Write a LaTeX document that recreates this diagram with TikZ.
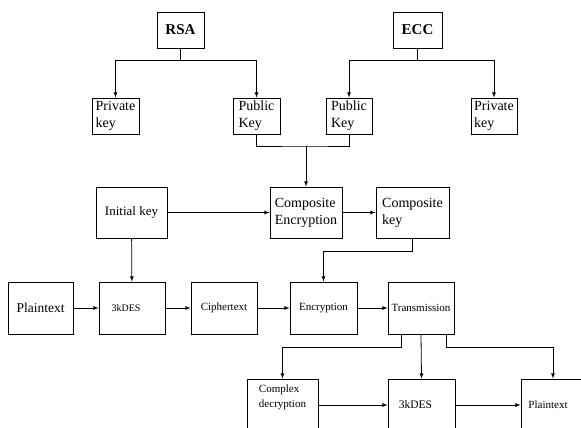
\documentclass[tikz,border=0pt]{standalone}
\usepackage{fontspec}
\setmainfont{Liberation Serif}
\usetikzlibrary{arrows}

\tikzset{
  box/.style={draw, line width=0.9pt, inner sep=1pt, align=left},
  arr/.style={-latex, line width=0.8pt},
  big/.style={font=\fontsize{14}{17}\selectfont},
  small/.style={font=\fontsize{11}{15}\selectfont}
}

\begin{document}
\begin{tikzpicture}[x=1pt, y=-1pt]
      \useasboundingbox (0,0) rectangle (581,428);
      \clip (0,0) rectangle (581,428);

      % key generation
      \node[box, minimum width=47pt, minimum height=36pt, font=\fontsize{15}{17}\selectfont\bfseries] (rsa) at (180.5, 30) {RSA};
      \node[box, minimum width=49pt, minimum height=36pt, font=\fontsize{15}{17}\selectfont\bfseries] (ecc) at (417.5, 30) {ECC};
      \node[box, big, minimum width=47pt, minimum height=36pt] (privr) at (115.5, 116) {Private\\key};
      \node[box, big, minimum width=47pt, minimum height=36pt] (pubr) at (256.5, 116) {Public\\Key};
      \node[box, big, minimum width=46pt, minimum height=36pt] (pube) at (349, 116) {Public\\Key};
      \node[box, big, minimum width=46pt, minimum height=36pt] (prive) at (494, 116) {Private\\key};
      \coordinate (join) at (306, 146);

      \draw[arr] (rsa.south) -- ++(0,12) -| (privr.north);
      \draw[arr] (rsa.south) -- ++(0,12) -| (pubr.north);
      \draw[arr] (ecc.south) -- ++(0,12) -| (pube.north);
      \draw[arr] (ecc.south) -- ++(0,12) -| (prive.north);

      % composite key
      \node[box, font=\fontsize{13}{16}\selectfont, minimum width=71pt, minimum height=51pt] (init) at (131.5, 212.5) {Initial key};
      \node[box, big, minimum width=72pt, minimum height=51pt] (compenc) at (306, 212.5) {Composite\\Encryption};
      \node[box, big, minimum width=73pt, minimum height=51pt] (ckey) at (412.5, 212.5) {Composite\\key};

      \draw[line width=0.8pt] (pubr.south) |- (join) -| (pube.south);
      \draw[arr] (join) -- (compenc.north);
      \draw[arr] (init) -- (compenc);
      \draw[arr] (compenc) -- (ckey);

      % encryption chain
      \node[box, font=\fontsize{13.5}{16}\selectfont, minimum width=65pt, minimum height=52pt] (plain) at (40.5, 308) {Plaintext};
      \node[box, font=\fontsize{10}{12}\selectfont, minimum width=66pt, minimum height=52pt] (des) at (132, 308) {3kDES\hspace{12pt}};
      \node[box, small, minimum width=66pt, minimum height=52pt] (cipher) at (224, 308) {Ciphertext};
      \node[box, small, minimum width=67pt, minimum height=52pt] (enc) at (323.5, 308) {Encryption};
      \node[box, small, minimum width=66pt, minimum height=52pt] (trans) at (421, 308) {Transmission};

      \draw[arr] (init) -- (des);
      \draw[arr] (ckey.south) -- ++(0,13) -| (enc.north);
      \draw[arr] (plain) -- (des);
      \draw[arr] (des) -- (cipher);
      \draw[arr] (cipher) -- (enc);
      \draw[arr] (enc) -- (trans);

      % decryption
      \node[box, small, minimum width=71pt, minimum height=52pt] (cdec) at (282.5, 405) {Complex\\decryption\\[2pt]};
      \node[box, font=\fontsize{11.5}{14}\selectfont, minimum width=67pt, minimum height=52pt] (des2) at (421.5, 405) {3kDES\hspace{12pt}};
      \node[box, small, minimum width=64pt, minimum height=52pt] (plain2) at (553, 405) {Plaintext\hspace{10pt}};

      \draw[arr] ([xshift=-20pt]trans.south) -- ++(0,13) -| (cdec.north);
      \draw[arr] (trans.south) -- (des2.north);
      \draw[arr] ([xshift=25pt]trans.south) -- ++(0,13) -| (plain2.north);
      \draw[arr] (cdec) -- (des2);
      \draw[arr] (des2) -- (plain2);

    \end{tikzpicture}
\end{document}
